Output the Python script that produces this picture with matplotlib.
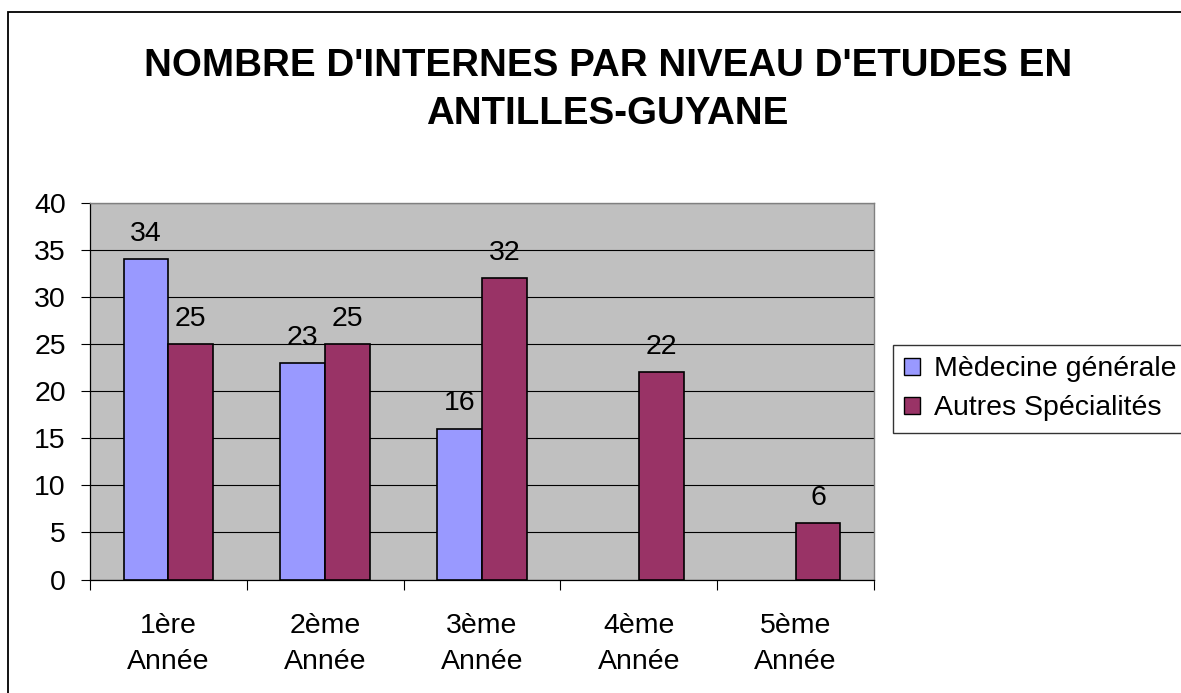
import numpy as np
import matplotlib
matplotlib.use("Agg")
import matplotlib.pyplot as plt
from matplotlib.patches import Rectangle, Patch

plt.rcParams['font.family'] = ['Liberation Sans', 'DejaVu Sans']

title_lines = ["NOMBRE D'INTERNES PAR NIVEAU D'ETUDES EN", "ANTILLES-GUYANE"]
categories_line1 = ["1ère", "2ème", "3ème", "4ème", "5ème"]
categories_line2 = ["Année", "Année", "Année", "Année", "Année"]
series_names = ["Mèdecine générale", "Autres Spécialités"]
medecine_generale = [34, 23, 16, None, None]
autres_specialites = [25, 25, 32, 22, 6]
y_ticks = [0, 5, 10, 15, 20, 25, 30, 35, 40]

c_mg = "#9999FF"
c_as = "#993366"
bg = "#C0C0C0"

W, H = 1181, 693
fig = plt.figure(figsize=(W / 100, H / 100), dpi=100)
fig.patch.set_facecolor("white")

# outer chart border
fig.patches.append(Rectangle((8 / W, -0.1), 1.2, 1 - 12 / H + 0.1,
                             transform=fig.transFigure, fill=False,
                             edgecolor="black", linewidth=1.3))

ax = fig.add_axes([90 / W, 1 - 579.5 / H, (874 - 90) / W, (579.5 - 203) / H])
ax.set_facecolor(bg)
ax.set_xlim(-0.5, 4.5)
ax.set_ylim(0, 40)

bw = 1 / 3.5
x = np.arange(len(categories_line1))
fs = 20.5

for vals, off, col in [(medecine_generale, -bw / 2, c_mg), (autres_specialites, bw / 2, c_as)]:
    for xi, v in zip(x, vals):
        if v is None:
            continue
        ax.bar(xi + off, v, width=bw, color=col, edgecolor="black", linewidth=1.2, zorder=3)
        ax.annotate(str(v), (xi + off, v), xytext=(0, 13.3), textcoords="offset points",
                    ha="center", va="baseline", fontsize=fs, zorder=4)

ax.set_yticks(y_ticks)
ax.set_yticklabels([str(t) for t in y_ticks], fontsize=fs)
ax.yaxis.grid(True, color="black", linewidth=0.8, zorder=1)
ax.set_axisbelow(True)
ax.tick_params(axis="y", length=6.5, width=0.8, pad=10.8, direction="out")

ax.set_xticks(np.arange(-0.5, 5, 1.0))
ax.set_xticklabels([])
ax.tick_params(axis="x", length=7.2, width=0.8, direction="out")

for xi, l1, l2 in zip(x, categories_line1, categories_line2):
    ax.annotate(l1, (xi, 0), xycoords=("data", "axes fraction"), xytext=(0, -38.2),
                textcoords="offset points", ha="center", va="baseline", fontsize=fs,
                annotation_clip=False)
    ax.annotate(l2, (xi, 0), xycoords=("data", "axes fraction"), xytext=(0, -64.3),
                textcoords="offset points", ha="center", va="baseline", fontsize=fs,
                annotation_clip=False)

for s in ["top", "right"]:
    ax.spines[s].set_color("#808080")
    ax.spines[s].set_linewidth(1.0)
for s in ["left", "bottom"]:
    ax.spines[s].set_color("black")
    ax.spines[s].set_linewidth(0.9)

# title
fig.text(608 / W, 1 - 76 / H, title_lines[0], ha="center", va="baseline",
         fontsize=27.7, fontweight="bold")
fig.text(607 / W, 1 - 124 / H, title_lines[1], ha="center", va="baseline",
         fontsize=27.7, fontweight="bold")

handles = [Patch(facecolor=c_mg, edgecolor="black", linewidth=1.0),
           Patch(facecolor=c_as, edgecolor="black", linewidth=1.0)]
leg = fig.legend(handles, series_names, loc="upper left",
                 bbox_to_anchor=(893 / W, 1 - 345 / H), fontsize=fs,
                 frameon=True, fancybox=False, shadow=False, borderpad=0.4,
                 handlelength=0.55, handleheight=0.55, handletextpad=0.5,
                 labelspacing=0.46, borderaxespad=0.0)
leg.get_frame().set_edgecolor("black")
leg.get_frame().set_linewidth(1.0)

fig.savefig("out.png", dpi=100)
